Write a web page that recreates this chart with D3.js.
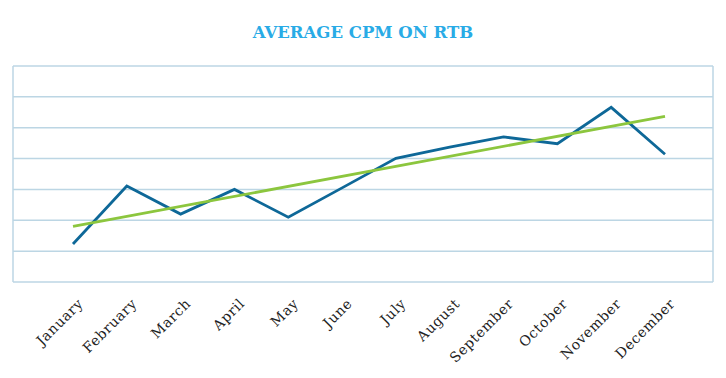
<!DOCTYPE html>
<html><head><meta charset="utf-8">
<script src="https://cdn.jsdelivr.net/npm/d3@7"></script>
<style>body{margin:0;background:#fff}svg{display:block}</style>
</head><body>
<svg id="c" width="726" height="378"></svg>
<script>
const months = ["January","February","March","April","May","June","July","August","September","October","November","December"];
const cpm = [1.23, 3.11, 2.2, 3.0, 2.1, 3.05, 4.01, 4.37, 4.7, 4.48, 5.66, 4.14];
const trend = [1.8, 5.37];
const yTicks = [0,1,2,3,4,5,6,7];

const svg = d3.select("#c");
const box = {left:13, right:713, top:66, bottom:282};
const x = d3.scalePoint().domain(months).range([73, 665]);
const y = d3.scaleLinear().domain([0,7]).range([box.bottom, box.top]);

svg.append("text").attr("x",363).attr("y",38).attr("text-anchor","middle")
  .attr("font-family","DejaVu Serif").attr("font-weight","bold").attr("font-size",16.5)
  .attr("fill","#29abe6").text("AVERAGE CPM ON RTB");

const g = svg.append("g");
g.selectAll("line.grid").data(yTicks).join("line").attr("class","grid")
  .attr("x1",box.left).attr("x2",box.right).attr("y1",d=>y(d)).attr("y2",d=>y(d))
  .attr("stroke","#bcd6e4").attr("stroke-width",1.5);
g.append("line").attr("x1",box.left).attr("x2",box.left).attr("y1",box.top).attr("y2",box.bottom)
  .attr("stroke","#bcd6e4").attr("stroke-width",1.5);
g.append("line").attr("x1",box.right).attr("x2",box.right).attr("y1",box.top).attr("y2",box.bottom)
  .attr("stroke","#bcd6e4").attr("stroke-width",1.5);

const line = d3.line().x((d,i)=>x(months[i])).y(d=>y(d));
g.append("path").datum(cpm).attr("d",line).attr("fill","none")
  .attr("stroke","#0e6898").attr("stroke-width",2.8).attr("stroke-linejoin","miter");
g.append("line").attr("x1",x(months[0])).attr("x2",x(months[months.length-1]))
  .attr("y1",y(trend[0])).attr("y2",y(trend[1]))
  .attr("stroke","#8cc63e").attr("stroke-width",2.8);

const xAxis = d3.axisBottom(x).tickSize(0).tickPadding(0);
const ax = svg.append("g").attr("transform",`translate(0,${box.bottom})`).call(xAxis);
ax.select(".domain").remove();
ax.selectAll("text").attr("font-family","DejaVu Serif").attr("font-size",14)
  .attr("letter-spacing",0.6).attr("fill","#222")
  .attr("text-anchor","end").attr("dy","0.35em")
  .attr("transform","translate(7,19) rotate(-45)");
</script>
</body></html>
